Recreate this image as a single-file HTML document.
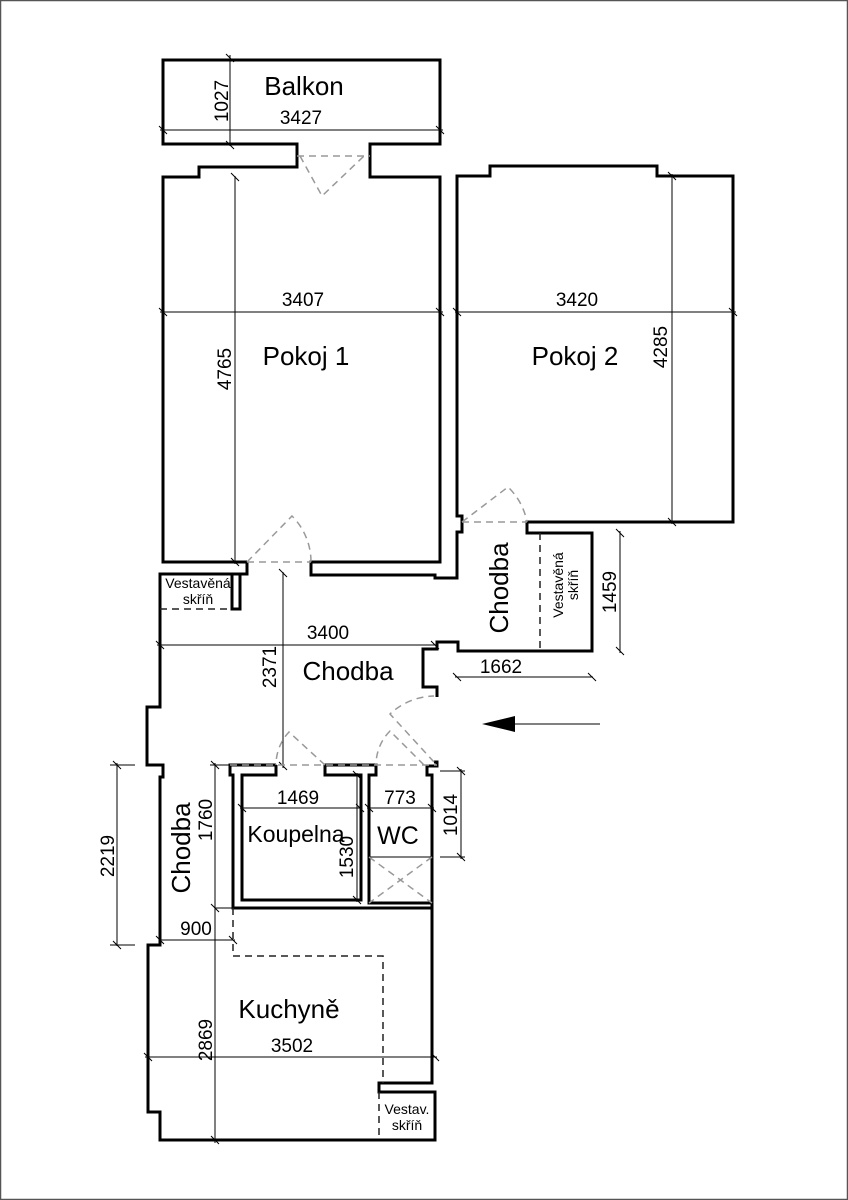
<!DOCTYPE html>
<html><head><meta charset="utf-8"><style>
html,body{margin:0;padding:0;background:#fff;}
svg{display:block;}
text{font-family:"Liberation Sans",Arial,sans-serif;fill:#000;}
</style></head><body>
<svg width="848" height="1200" viewBox="0 0 848 1200" xmlns="http://www.w3.org/2000/svg">
<rect x="0.5" y="0.5" width="847" height="1199" fill="#fff" stroke="#555" stroke-width="1.5"/>
<g fill="none" stroke="#000" stroke-width="3" stroke-linejoin="miter">
<polyline points="297,156 297,144 163,144 163,60 440,60 440,144 370,144 370,156"/>
<polyline points="297,156 297,167 199,167 199,177 163,177 163,562 247,562"/>
<polyline points="370,156 370,177 440,177 440,562 311,562 311,575 435,575 435,578 457,578 457,532 462,532 462,522"/>
<polyline points="462,522 462,516 457,516 457,176 490,176 490,166 657,166 657,176 733,176 733,522 527,522 527,533 592,533 592,651 458,651 458,642 437,642 437,649 423,649 423,687 437,687 437,697"/>
<polyline points="434,762 437,762 437,766 427,766 427,775 432,775 432,1083 379,1083 379,1092 435,1092 435,1140 160,1140 160,1112 148,1112 148,945 160,945 160,777 163,777 163,765 147,765 147,707 160,707 160,574 247,574 247,562"/>
<polyline points="232,574 232,609 240,609 240,574"/>
<polyline points="276,765 230,765 230,775 233,775 233,908 432,908"/>
<polyline points="276,765 276,775 242,775 242,900 361,900 361,775 325,775 325,765 376,765 376,775 369,775 369,903 432,903"/>
</g>
<g stroke="#000" stroke-width="1" fill="none">
<line x1="369" y1="857" x2="432" y2="857"/>
<line x1="230" y1="55" x2="230" y2="146"/><line x1="160" y1="130" x2="443" y2="130"/>
<line x1="235" y1="176" x2="235" y2="564"/><line x1="160" y1="312" x2="443" y2="312"/>
<line x1="672" y1="174" x2="672" y2="524"/><line x1="455" y1="312" x2="736" y2="312"/>
<line x1="157" y1="645" x2="437" y2="645"/><line x1="283" y1="572" x2="283" y2="768"/>
<line x1="620" y1="531" x2="620" y2="653"/><line x1="455" y1="677" x2="593" y2="677"/>
<line x1="117" y1="763" x2="117" y2="946"/><line x1="110" y1="765" x2="135" y2="765"/><line x1="110" y1="945" x2="135" y2="945"/>
<line x1="215" y1="763" x2="215" y2="1143"/><line x1="210" y1="765" x2="230" y2="765"/><line x1="215" y1="908" x2="232" y2="908"/>
<line x1="160" y1="940" x2="235" y2="940"/>
<line x1="145" y1="1057" x2="437" y2="1057"/>
<line x1="240" y1="808" x2="362" y2="808"/><line x1="357" y1="773" x2="357" y2="902"/>
<line x1="367" y1="808" x2="434" y2="808"/>
<line x1="461" y1="769" x2="461" y2="859"/><line x1="440" y1="771" x2="465" y2="771"/><line x1="440" y1="857" x2="465" y2="857"/>
<line x1="600" y1="724" x2="505" y2="724"/>
</g>
<polygon points="482,724 515,716 515,732" fill="#000"/>
<g stroke="#000" stroke-width="1">
<path d="M226,54l8,8M226,141l8,8M159,126l8,8M436,126l8,8M231,173l8,8M231,558l8,8M159,308l8,8M436,308l8,8M668,172l8,8M668,518l8,8M453,308l8,8M729,308l8,8M156,641l8,8M431,641l8,8M279,569l8,8M279,762l8,8M616,529l8,8M616,647l8,8M453,673l8,8M588,673l8,8M113,761l8,8M113,941l8,8M211,761l8,8M211,904l8,8M211,1136l8,8M156,936l8,8M229,936l8,8M144,1053l8,8M431,1053l8,8M238,804l8,8M356,804l8,8M353,771l8,8M353,896l8,8M365,804l8,8M428,804l8,8M457,767l8,8M457,853l8,8"/>
</g>
<g stroke="#999" stroke-width="1.5" fill="none" stroke-dasharray="7,5">
<line x1="297" y1="156" x2="370" y2="156"/>
<polyline points="300,156 322,196 364,156"/>
<line x1="247" y1="562" x2="311" y2="562"/>
<path d="M247,562 L292,516 A65,65 0 0 1 311,562"/>
<line x1="462" y1="522" x2="527" y2="522"/>
<path d="M462,522 L508,487 A65,65 0 0 1 527,522"/>
<line x1="230" y1="765" x2="437" y2="765"/>
<path d="M325,765 L289,732 A48,48 0 0 0 276,765"/>
<path d="M434,762 L390,714 A66,66 0 0 1 434,696"/>
<path d="M424,765 L390,731 A48,48 0 0 0 376,765"/>
<line x1="369" y1="857" x2="432" y2="903"/><line x1="432" y1="857" x2="369" y2="903"/>
</g>
<g stroke="#222" stroke-width="1.5" fill="none" stroke-dasharray="7,5">
<line x1="160" y1="609" x2="232" y2="609"/>
<line x1="540" y1="533" x2="540" y2="651"/>
<polyline points="233,908 233,956 383,956 383,1083"/>
<line x1="379" y1="1092" x2="379" y2="1140"/>
</g>
<g font-size="26" text-anchor="middle">
<text x="304" y="95">Balkon</text>
<text x="306" y="365">Pokoj 1</text>
<text x="575" y="365">Pokoj 2</text>
<text x="348" y="680">Chodba</text>
<text x="289" y="1018">Kuchyně</text>
<text x="296" y="842" font-size="23">Koupelna</text>
<text x="398" y="844" font-size="25">WC</text>
<text transform="translate(508,588) rotate(-90)">Chodba</text>
<text transform="translate(190,848) rotate(-90)">Chodba</text>
</g>
<g font-size="19" text-anchor="middle">
<text x="301" y="124">3427</text>
<text transform="translate(228,101) rotate(-90)">1027</text>
<text x="303" y="306">3407</text>
<text transform="translate(231,369) rotate(-90)">4765</text>
<text x="577" y="306">3420</text>
<text transform="translate(667,347) rotate(-90)">4285</text>
<text x="328" y="639">3400</text>
<text transform="translate(276,667) rotate(-90)">2371</text>
<text transform="translate(616,592) rotate(-90)">1459</text>
<text x="501" y="673">1662</text>
<text transform="translate(114,856) rotate(-90)">2219</text>
<text transform="translate(212,820) rotate(-90)">1760</text>
<text transform="translate(212,1040) rotate(-90)">2869</text>
<text x="196" y="935">900</text>
<text x="292" y="1052">3502</text>
<text x="298" y="804">1469</text>
<text x="400" y="804">773</text>
<text transform="translate(353,857) rotate(-90)">1530</text>
<text transform="translate(457,815) rotate(-90)">1014</text>
</g>
<g font-size="14" text-anchor="middle">
<text x="198" y="588">Vestavěná</text>
<text x="198" y="604">skříň</text>
<text transform="translate(563,585) rotate(-90)">Vestavěná</text>
<text transform="translate(578,585) rotate(-90)">skříň</text>
<text x="407" y="1114">Vestav.</text>
<text x="407" y="1130">skříň</text>
</g>
</svg>
</body></html>
